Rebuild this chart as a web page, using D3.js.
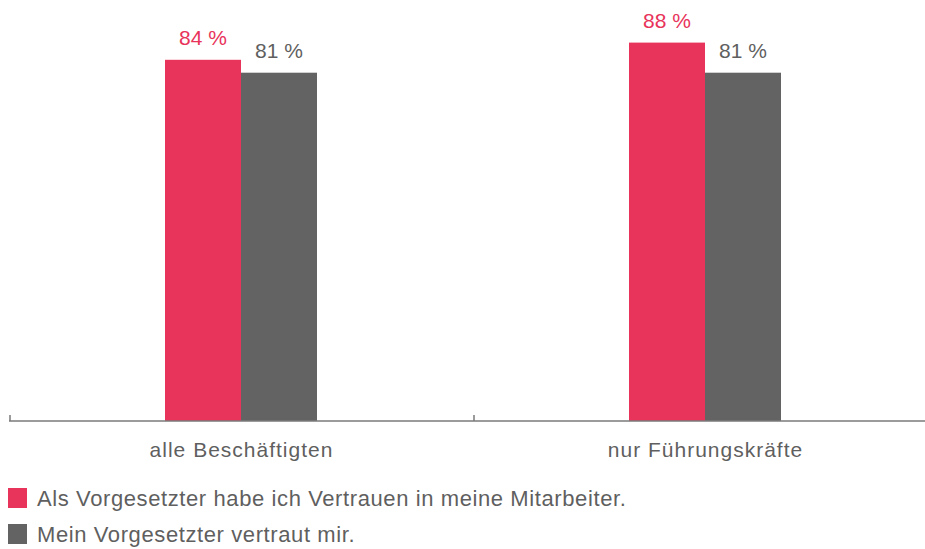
<!DOCTYPE html>
<html>
<head>
<meta charset="utf-8">
<script src="https://cdn.jsdelivr.net/npm/d3@7"></script>
<style>
	body { margin: 0; background: #fff; }
	text { font-family: "Liberation Sans", Arial, sans-serif; }
</style>
</head>
<body>
<div id="container"></div>
<script>
// ==============
//	DATA
// ==============

var categories = ["alle Beschäftigten", "nur Führungskräfte"];
var seriesNames = [
	"Als Vorgesetzter habe ich Vertrauen in meine Mitarbeiter.",
	"Mein Vorgesetzter vertraut mir."
];
var trustInStaff = [84, 88];
var trustFromBoss = [81, 81];

// ==============
//	OPTIONS
// ==============

var width = 925, height = 549;
var colRed = "#e8335a",
	colGrey = "#636363",
	colText = "#5f5f5f",
	colAxis = "#7a7a7a";
var colors = [colRed, colGrey];
var labelColors = [colRed, colText];

var svg = d3.select("#container").append("svg")
	.attr("width", width)
	.attr("height", height);

// table built from the arrays
var table = categories.map((c, i) => ({cat: c, values: [trustInStaff[i], trustFromBoss[i]]}));

var x0 = d3.scaleBand()
	.domain(categories)
	.range([9, 937]);

var x1 = d3.scaleBand()
	.domain([0, 1])
	.range([0, 152]);

var y = d3.scaleLinear()
	.domain([0, 100])
	.range([421, -9]);

// === bars
var group = svg.append("g")
	.selectAll("g")
	.data(table)
	.join("g")
		.attr("transform", d => "translate(" + (x0(d.cat) + (x0.bandwidth() - 152) / 2) + ",0)");

group.selectAll("rect")
	.data(d => d.values.map((v, i) => ({i: i, v: v})))
	.join("rect")
		.attr("x", d => x1(d.i))
		.attr("y", d => y(d.v))
		.attr("width", x1.bandwidth())
		.attr("height", d => y(0) - y(d.v))
		.attr("fill", d => colors[d.i]);

// === value labels
group.selectAll("text")
	.data(d => d.values.map((v, i) => ({i: i, v: v})))
	.join("text")
		.attr("x", d => x1(d.i) + x1.bandwidth() / 2)
		.attr("y", d => y(d.v) - 15)
		.attr("text-anchor", "middle")
		.style("font-size", "21px")
		.attr("fill", d => labelColors[d.i])
		.text(d => d.v + " %");

// === axis
var axis = svg.append("g")
	.attr("transform", "translate(0," + y(0) + ")")
	.call(d3.axisBottom(x0).tickSize(0));

axis.select(".domain").remove();
axis.append("line")
	.attr("x1", x0.range()[0])
	.attr("x2", width)
	.attr("stroke", colAxis)
	.attr("stroke-width", 1.5);

axis.selectAll(".boundary")
	.data(categories.map(c => x0(c)).concat([x0.range()[1]]))
	.join("line")
		.attr("class", "boundary")
		.attr("x1", d => d + 1)
		.attr("x2", d => d + 1)
		.attr("y1", -6)
		.attr("y2", 0)
		.attr("stroke", colAxis)
		.attr("stroke-width", 1.5);

axis.selectAll(".tick text")
	.attr("y", 35.5)
	.attr("dy", null)
	.attr("dx", "0.5px")
	.style("font-size", "21px")
	.style("letter-spacing", "1px")
	.style("font-family", "'Liberation Sans', Arial, sans-serif")
	.attr("fill", colText);

// === legend
var legend = svg.append("g")
	.selectAll("g")
	.data(seriesNames)
	.join("g")
		.attr("transform", (d, i) => "translate(8," + (488 + i * 36) + ")");

legend.append("rect")
	.attr("width", 19)
	.attr("height", 20)
	.attr("fill", (d, i) => colors[i]);

legend.append("text")
	.attr("x", 29)
	.attr("y", 18)
	.style("font-size", "22px")
	.style("letter-spacing", "0.6px")
	.attr("fill", colText)
	.text(d => d);
</script>
</body>
</html>
